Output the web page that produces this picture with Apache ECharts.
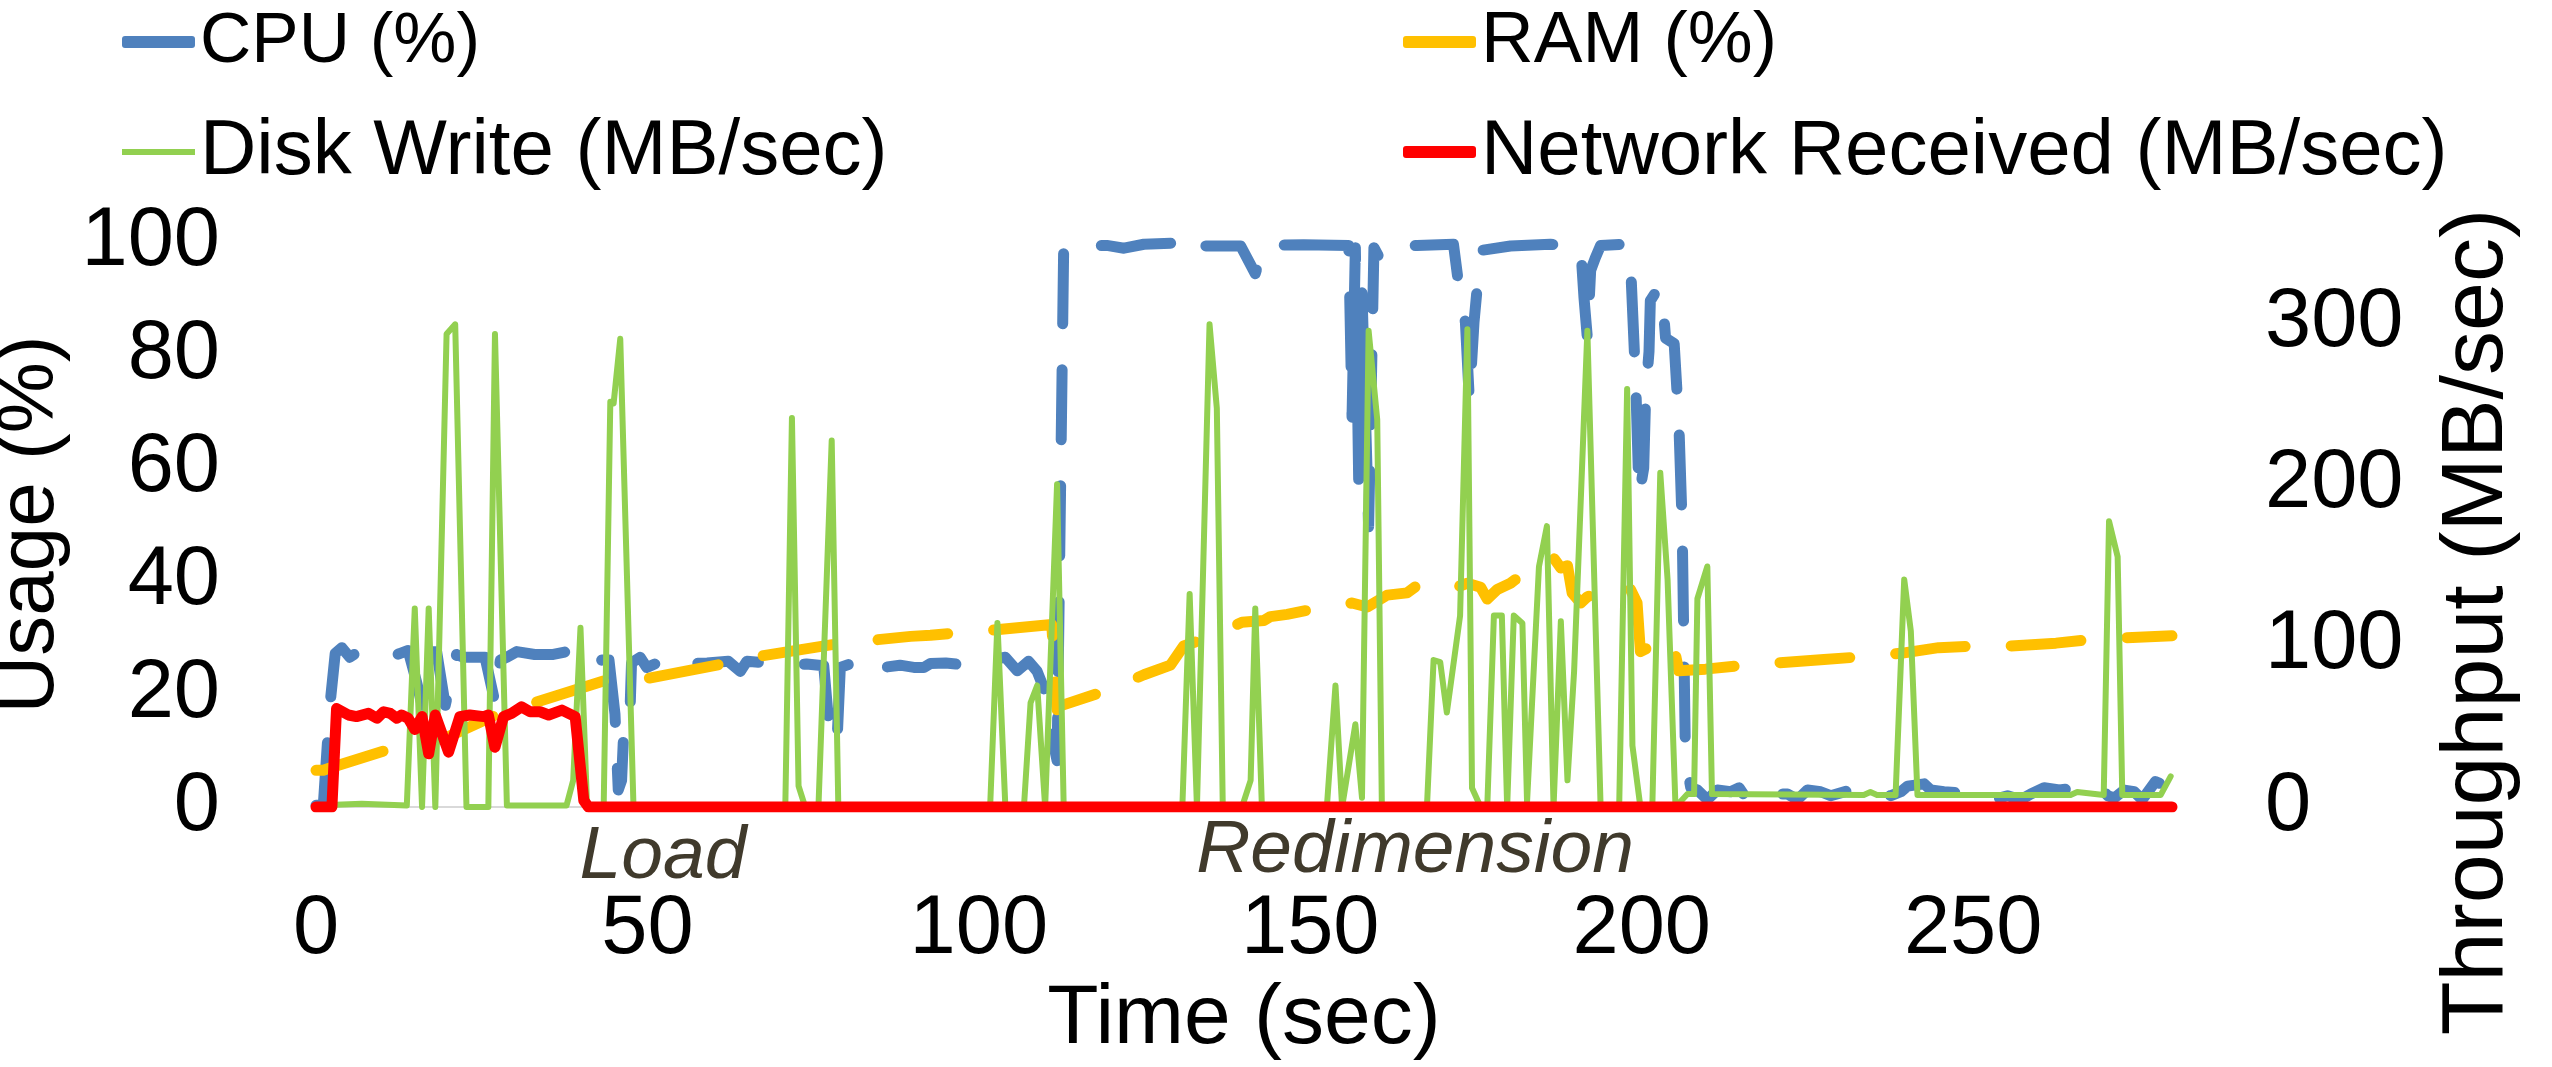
<!DOCTYPE html>
<html><head><meta charset="utf-8">
<script src="https://cdn.jsdelivr.net/npm/echarts@6/dist/echarts.min.js"></script>
<style>html,body{margin:0;padding:0;background:#fff}#c{width:2552px;height:1067px}</style>
</head><body><div id="c"></div>
<script>
// ---- tick labels ----
const timeTicks = [0, 50, 100, 150, 200, 250];
const usageTicks = [0, 20, 40, 60, 80, 100];
const throughputTicks = [0, 100, 200, 300];
const seriesNames = ['CPU (%)', 'RAM (%)', 'Disk Write (MB/sec)', 'Network Received (MB/sec)'];
const phaseLabels = ['Load', 'Redimension'];

// ---- series values: [time (sec), value] ----
const cpu = [[0,0.3],[1.1,0.3],[2.1,18],[2.9,27.2],[3.9,28.2],[5.1,26.5],[6.4,27.5],[8.5,27],[11.2,26.5],[12.7,27.2],[13.9,27.7],[15.2,22],[16,18],[17.5,27.5],[18.2,27.5],[19.5,18],[21.2,27],[22.2,26.5],[23.7,26.5],[25.5,26.5],[27,18.5],[27.8,26],[28.8,26.5],[30.3,27.5],[33,27],[35.8,27],[37.8,27.5],[39.1,26],[40.4,25.5],[41.9,24.5],[43.1,26],[44.2,26],[45.1,16.5],[45.6,3],[46.1,4.7],[46.6,18],[47.4,18],[47.6,25.5],[48.9,26.5],[49.9,24.7],[51.9,25.7],[53.4,25.8],[54.9,26.5],[56.4,25.4],[59,25.5],[62.2,25.8],[64,24],[65,25.8],[69,25.4],[71.5,25],[74,25.3],[76.6,25],[77.6,11.5],[78.6,11.5],[79.1,24.7],[81,25.5],[82.6,26.8],[83.6,25.4],[85.6,24.7],[88.1,25.1],[90.2,24.7],[91.7,24.7],[92.7,25.4],[95,25.5],[98,25.1],[99.7,26.1],[102.2,26.1],[104,26.5],[105.8,24.1],[107.5,25.8],[108.8,24],[109.8,21],[110.3,16.5],[111.8,8.2],[112.8,99.4],[113.8,99.3],[119.3,99.4],[121.9,98.9],[124.9,99.6],[129.9,99.8],[131.9,97.5],[132.9,99.3],[139.5,99.3],[141.7,94.4],[143,99.4],[149,99.5],[155.8,99.4],[156.3,69],[156.8,99],[157.3,58],[157.8,91],[158.8,49.6],[159.6,99],[160.6,96.8],[162.6,99.3],[166.1,99.4],[171.6,99.6],[172.7,89.6],[173.4,85.8],[174,72],[174.7,85.8],[175.7,98.5],[180.2,99.3],[186.2,99.6],[190.8,99],[191.3,90],[191.8,83],[192.3,95],[193,97.2],[193.8,99.4],[197.8,99.6],[198.3,96.5],[199.1,75],[199.6,55],[200.3,60],[200.6,73],[201.1,80.6],[201.3,89.6],[202.6,92],[203.1,90.6],[203.6,83],[204.9,82],[205.6,68],[206.1,50],[206.6,8.5],[207.4,3.4],[208.4,3],[209.9,1.3],[211.4,3],[213.4,2.7],[214.7,3.4],[215.9,1.3],[216.4,2.3],[222,2.3],[223.5,1.3],[225,3],[227,2.7],[228.5,2],[231.5,3],[236,3],[237.6,2],[239.1,2.7],[240.1,3.7],[242.6,4.1],[243.6,3],[245.6,2.7],[248,2.5],[251.1,2.3],[253.1,1.3],[255.2,2],[257.2,1.3],[258.7,2.3],[260.7,3.4],[263,3],[265.7,3.4],[268.7,4.1],[270.3,2],[271.3,1.6],[272.8,3],[274.3,2.7],[275.5,1.3],[277.5,4.5],[278.5,4],[279.5,0.5],[280,0.5]];

const ram = [[0,6.5],[1.1,6.5],[2.9,7.2],[10.7,10.1],[19.7,12.3],[26.8,16.1],[33.1,18.5],[43.4,22.3],[50.2,22.8],[61.7,25.4],[67.5,26.8],[78.8,28.9],[84.6,29.6],[89.7,30.2],[92.7,30.4],[96.4,30.8],[102,31.3],[111,32.3],[111.8,17.2],[112.3,17.9],[119.3,20.6],[124.9,23.4],[128.9,25.1],[130.9,28.5],[134.4,29.9],[139.7,32.7],[143,33],[144,33.7],[146.5,34.1],[150.8,35.1],[156.3,36.1],[158.6,35.4],[161.6,37.5],[164.6,37.9],[166.1,39.2],[171.1,38.5],[173.7,39.6],[175.7,38.9],[176.7,36.8],[178.2,38.5],[180.2,39.6],[183.5,42.5],[185.2,43.7],[186.7,44.1],[187.8,42.3],[188.8,42.7],[189.5,37.9],[190.8,36.1],[191.8,37.2],[197.1,39.6],[198.3,38.5],[199.3,36.1],[199.8,27.5],[202.6,29.2],[204.6,29.7],[205.6,24.1],[209.6,24.4],[215.7,25.1],[227.5,26.1],[233.3,26.6],[239.1,27.2],[244.8,28.2],[250.9,28.5],[255.7,28.5],[262.5,29],[268.2,29.7],[280,30.3]];

const disk = [[0,1],[6.9,2],[13.7,1],[14.9,123],[16,0],[17,123],[18,0],[19.7,293],[21,299],[22.7,0],[26,0],[27,293],[28.8,1],[37.8,1],[38.8,16.5],[39.9,111],[40.9,0],[43.4,0],[44.4,251],[44.9,250],[45.9,290],[47.9,0],[70.8,0],[71.8,241],[72.8,13],[73.8,0],[75.8,0],[77.8,227],[78.8,0],[101.7,0],[102.8,114],[104,0],[106.8,0],[107.8,64.5],[108.8,75.3],[110,0],[111.8,200],[112.8,0],[130.7,0],[131.8,132],[132.9,0],[134.8,299],[135.9,247],[136.8,0],[139.7,0],[141,16.5],[141.7,123],[142.7,0],[152.5,0],[153.8,75.3],[154.8,0],[156.8,51.3],[157.8,5.7],[158.8,295],[160.1,240],[160.8,0],[167.6,0],[168.6,91],[169.6,89.7],[170.6,58.5],[172.6,118.6],[173.7,296],[174.4,11.7],[175.7,0],[176.7,0],[177.7,118.6],[178.9,118.6],[179.7,0],[180.7,118.6],[182,113.8],[182.7,3],[184.5,149],[185.7,174],[186.7,0],[187.8,115],[188.8,16.5],[189.8,84],[191.8,295],[193.8,0],[196.6,0],[197.8,259],[198.6,38],[199.8,0],[201.6,0],[202.8,207],[203.9,141],[205.1,0],[206.9,8],[207.9,8],[208.4,129],[209.9,149],[210.6,8],[233.5,7.5],[234.5,9.3],[235.5,7.5],[238.3,7.5],[239.6,141],[240.6,109],[241.6,7.5],[264.7,7.5],[265.7,9.3],[269.7,7.5],[270.5,177],[271.8,155],[272.5,7.5],[278.3,7.5],[279.8,19]];

const network = [[0,0],[2.4,0],[3.1,61],[4.9,57],[6.1,56],[7.9,58],[9.2,55],[10.2,59],[11.2,58],[12.2,55],[12.9,57],[13.9,55],[14.9,48],[16,56],[17,33],[18,57],[20,34],[21.7,56],[23.2,57],[25.3,56],[26,57],[27,37],[28.3,56],[29.5,58],[31,62],[32.3,59],[33.8,59],[35.1,57],[37.1,60],[39.1,56],[40.4,4],[41.1,0],[280,0]];

const FONT = '"Liberation Sans", Arial, sans-serif';
const chart = echarts.init(document.getElementById('c'), null, {renderer: 'canvas'});

const legendSizes = [71, 73, 78, 78];
const rich = {};
seriesNames.forEach((n, i) => { rich['s' + i] = {fontSize: legendSizes[i], fontFamily: FONT, color: '#000', lineHeight: 80}; });

const legendCommon = {
  orient: 'vertical', top: 2, itemGap: 30, itemWidth: 73, itemHeight: 12,
  icon: 'roundRect', padding: 0, selectedMode: false,
  formatter: name => '{s' + seriesNames.indexOf(name) + '|' + name + '}',
  textStyle: {fontSize: 75, fontFamily: FONT, color: '#000', lineHeight: 80, rich: rich}
};

const lineBase = {type: 'line', showSymbol: false, symbol: 'none', silent: true, animation: false, emphasis: {disabled: true}};

chart.setOption({
  animation: false,
  backgroundColor: '#fff',
  grid: {left: 316, right: 380, top: 242, bottom: 260, containLabel: false, outerBoundsMode: 'none'},
  legend: [
    Object.assign({}, legendCommon, {left: 122, data: [seriesNames[0], {name: seriesNames[2], icon: 'path://M0,0L73,0L73,6L0,6Z'}]}),
    Object.assign({}, legendCommon, {left: 1403, data: [seriesNames[1], seriesNames[3]]})
  ],
  xAxis: {
    type: 'value', min: 0, max: 280, interval: 50,
    axisLine: {show: true, onZero: false, lineStyle: {color: '#d9d9d9', width: 2}},
    axisTick: {show: false}, splitLine: {show: false},
    axisLabel: {customValues: timeTicks, fontSize: 83, fontFamily: FONT, color: '#000', margin: 82},
    name: 'Time (sec)', nameLocation: 'middle', nameGap: 171,
    nameTextStyle: {fontSize: 84, fontFamily: FONT, color: '#000'}
  },
  yAxis: [{
    type: 'value', min: 0, max: 100, interval: 20, position: 'left',
    axisLine: {show: false}, axisTick: {show: false}, splitLine: {show: false},
    axisLabel: {customValues: usageTicks, fontSize: 83, fontFamily: FONT, color: '#000', margin: 96},
    name: 'Usage (%)', nameLocation: 'middle', nameGap: 206,
    nameTextStyle: {fontSize: 80, fontFamily: FONT, color: '#000'}
  }, {
    type: 'value', min: 0, max: 350, interval: 100, position: 'right',
    axisLine: {show: false}, axisTick: {show: false}, splitLine: {show: false},
    axisLabel: {customValues: throughputTicks, fontSize: 83, fontFamily: FONT, color: '#000', margin: 93},
    name: 'Throughput (MB/sec)', nameLocation: 'middle', nameGap: 262,
    nameTextStyle: {fontSize: 88, fontFamily: FONT, color: '#000', padding: [0, 195, 0, 0]}
  }],
  graphic: [
    {type: 'text', x: 663, y: 857, silent: true, style: {text: phaseLabels[0], font: 'italic 75px "Liberation Sans", Arial, sans-serif', fill: '#403a2c', align: 'center', verticalAlign: 'middle'}},
    {type: 'text', x: 1415, y: 851, silent: true, style: {text: phaseLabels[1], font: 'italic 75px "Liberation Sans", Arial, sans-serif', fill: '#403a2c', align: 'center', verticalAlign: 'middle'}}
  ],
  series: [
    Object.assign({}, lineBase, {name: seriesNames[0], yAxisIndex: 0, data: cpu, z: 2,
      itemStyle: {color: '#4F81BD'},
      lineStyle: {color: '#4F81BD', width: 11, type: [70, 46], cap: 'round', join: 'round'}}),
    Object.assign({}, lineBase, {name: seriesNames[1], yAxisIndex: 0, data: ram, z: 3,
      itemStyle: {color: '#FFC000'},
      lineStyle: {color: '#FFC000', width: 11, type: [70, 46], cap: 'round', join: 'round'}}),
    Object.assign({}, lineBase, {name: seriesNames[2], yAxisIndex: 1, data: disk, z: 4,
      itemStyle: {color: '#92D050'},
      lineStyle: {color: '#92D050', width: 6, join: 'round', cap: 'round'}}),
    Object.assign({}, lineBase, {name: seriesNames[3], yAxisIndex: 1, data: network, z: 5,
      itemStyle: {color: '#FF0000'},
      lineStyle: {color: '#FF0000', width: 11, join: 'round', cap: 'round'}})
  ]
});
</script>
</body></html>
